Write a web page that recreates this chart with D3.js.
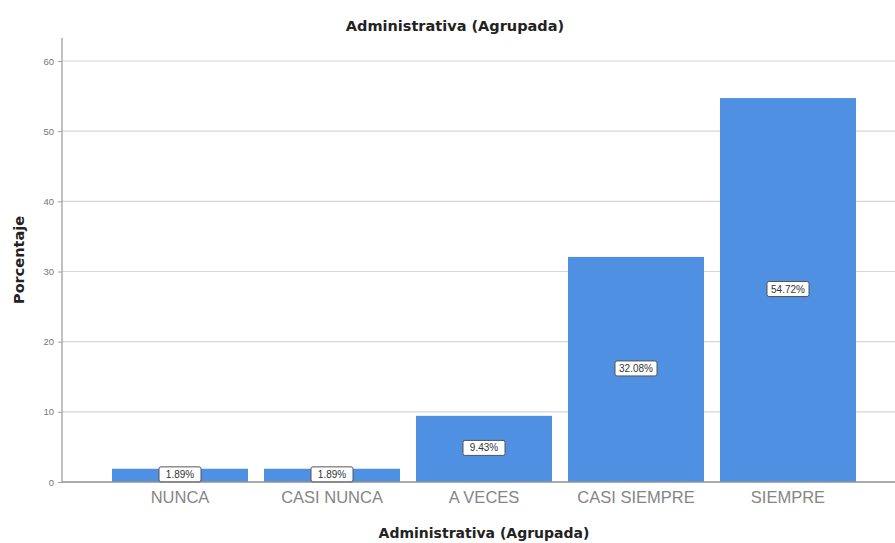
<!DOCTYPE html>
<html><head><meta charset="utf-8">
<script src="https://cdn.jsdelivr.net/npm/d3@7"></script>
<style>body{margin:0;background:#fff;} svg{display:block;}</style>
</head><body>
<svg id="c" width="895" height="543"></svg>
<script>
const categories = ["NUNCA", "CASI NUNCA", "A VECES", "CASI SIEMPRE", "SIEMPRE"];
const values = [1.89, 1.89, 9.43, 32.08, 54.72];
const yTicks = [0, 10, 20, 30, 40, 50, 60];
const title = "Administrativa (Agrupada)";
const xTitle = "Administrativa (Agrupada)";
const yTitle = "Porcentaje";

const svg = d3.select("#c");
const x = d3.scaleBand().domain(categories).range([104, 864])
  .paddingInner(16/152).paddingOuter(8/152);
const y = d3.scaleLinear().domain([0, 60]).range([482, 61]);

// gridlines
svg.append("g").selectAll("line").data(yTicks.filter(d => d > 0)).join("line")
  .attr("x1", 62).attr("x2", 895)
  .attr("y1", d => y(d)).attr("y2", d => y(d))
  .attr("stroke", "#d6d6d6").attr("stroke-width", 1.2);

// bars
svg.append("g").selectAll("rect").data(values).join("rect")
  .attr("x", (d, i) => x(categories[i]))
  .attr("width", x.bandwidth())
  .attr("y", d => y(d))
  .attr("height", d => y(0) - y(d))
  .attr("fill", "#5090e2");

// y axis
const yAxis = d3.axisLeft(y).tickValues(yTicks).tickSize(4).tickFormat(d3.format("d"));
const gy = svg.append("g").attr("transform", "translate(62,0)").call(yAxis);
gy.select(".domain").attr("d", "M0,38V482").attr("stroke", "#a0a0a0").attr("stroke-width", 1.3);
gy.selectAll(".tick line").attr("stroke", "#a0a0a0");
gy.selectAll(".tick text").attr("fill", "#777").attr("font-size", 9.5)
  .attr("font-family", "Liberation Sans, Arial, sans-serif").attr("x", -8);

// x axis
const xAxis = d3.axisBottom(x).tickSize(0);
const gx = svg.append("g").attr("transform", "translate(0,482)").call(xAxis);
gx.select(".domain").attr("d", "M62,0H895").attr("stroke", "#909090").attr("stroke-width", 1.3);
gx.selectAll(".tick text").attr("fill", "#858585").attr("font-size", 16.5)
  .attr("font-family", "Liberation Sans, Arial, sans-serif")
  .attr("y", 9).attr("dy", "0.71em");

// data labels
const lg = svg.append("g").selectAll("g").data(values).join("g")
  .attr("transform", (d, i) => `translate(${x(categories[i]) + x.bandwidth()/2},${(y(d) + y(0))/2 - 1})`);
lg.append("rect").attr("x", -21).attr("y", -7.5).attr("width", 42).attr("height", 15)
  .attr("rx", 2).attr("fill", "#fff").attr("stroke", "#555").attr("stroke-width", 1);
lg.append("text").attr("text-anchor", "middle").attr("dy", "0.35em")
  .attr("font-size", 10).attr("font-family", "Liberation Sans, Arial, sans-serif")
  .attr("fill", "#333").text(d => d.toFixed(2) + "%");

// titles
const bold = "DejaVu Sans, Verdana, sans-serif";
svg.append("text").attr("x", 455).attr("y", 31).attr("text-anchor", "middle")
  .attr("font-size", 14.5).attr("font-weight", "bold").attr("fill", "#222")
  .attr("font-family", bold).text(title);
svg.append("text").attr("x", 484).attr("y", 538).attr("text-anchor", "middle")
  .attr("font-size", 14).attr("font-weight", "bold").attr("fill", "#222")
  .attr("font-family", bold).text(xTitle);
svg.append("text").attr("transform", "translate(24,260) rotate(-90)").attr("text-anchor", "middle")
  .attr("font-size", 14.5).attr("font-weight", "bold").attr("fill", "#222")
  .attr("font-family", bold).text(yTitle);
</script>
</body></html>
